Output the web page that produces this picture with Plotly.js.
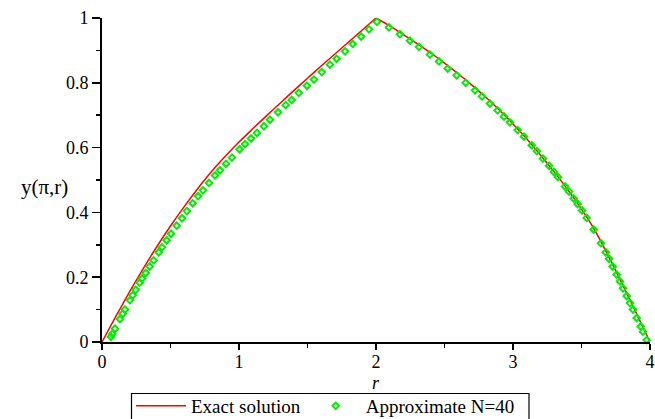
<!DOCTYPE html>
<html>
<head>
<meta charset="utf-8">
<script src="https://cdn.plot.ly/plotly-3.0.1.min.js"></script>
<style>html,body{margin:0;padding:0;background:#fff;}#chart{width:655px;height:419px;}</style>
</head>
<body>
<div id="chart"></div>
<script>
// Exact solution y(pi, r)
const xExact = [0,0.1,0.2,0.3,0.4,0.5,0.6,0.7,0.8,0.9,1.0,1.1,1.2,1.3,1.4,1.5,1.6,1.7,1.8,1.9,2.0,
                2.1,2.2,2.3,2.4,2.5,2.6,2.7,2.8,2.9,3.0,3.1,3.2,3.3,3.4,3.5,3.6,3.7,3.8,3.9,4.0];
const yExact = [0,0.078,0.154,0.226,0.294,0.358,0.418,0.474,0.526,0.573,0.617,0.658,0.698,0.737,0.776,0.814,0.852,0.889,0.926,0.963,1.000,
                0.976,0.949,0.921,0.892,0.861,0.828,0.793,0.756,0.716,0.673,0.627,0.577,0.525,0.470,0.410,0.343,0.262,0.177,0.089,0];

// Approximate solution N=40 (points)
const xApprox = [0.042,0.066,0.075,0.095,0.131,0.151,0.168,0.204,0.224,0.246,0.275,0.292,0.319,0.348,0.377,0.414,0.438,0.472,0.504,0.545,
                 0.584,0.620,0.662,0.701,0.737,0.781,0.825,0.861,0.905,0.949,1.005,1.044,1.088,1.131,1.182,1.226,1.285,1.341,1.385,1.436,
                 1.496,1.547,1.604,1.664,1.713,1.774,1.830,1.891,1.949,2.007,
                 2.095,2.175,2.248,2.314,2.394,2.460,2.523,2.589,2.655,2.723,2.774,2.832,2.888,2.934,2.978,3.034,3.080,3.137,3.175,3.219,
                 3.263,3.299,3.328,3.380,3.409,3.443,3.472,3.504,3.538,3.589,3.642,3.677,3.701,3.728,3.757,3.781,3.803,3.830,3.854,3.876,
                 3.903,3.932,3.949,3.976,3.993];
const yApprox = [-0.004,0.016,0.025,0.041,0.071,0.087,0.100,0.129,0.144,0.161,0.183,0.196,0.213,0.233,0.252,0.277,0.292,0.314,0.334,0.359,
                 0.382,0.404,0.428,0.450,0.468,0.491,0.514,0.530,0.550,0.569,0.595,0.611,0.628,0.645,0.666,0.686,0.709,0.731,0.747,0.769,
                 0.791,0.810,0.833,0.856,0.874,0.897,0.920,0.943,0.965,0.988,
                 0.971,0.950,0.930,0.911,0.887,0.866,0.844,0.823,0.800,0.777,0.758,0.736,0.715,0.696,0.678,0.654,0.634,0.607,0.589,0.566,
                 0.544,0.525,0.509,0.480,0.464,0.443,0.426,0.406,0.383,0.347,0.305,0.277,0.257,0.233,0.208,0.187,0.166,0.142,0.120,0.100,
                 0.074,0.048,0.032,0.006,-0.011];

const xTicks = [0,1,2,3,4];
const yTicks = [0,0.2,0.4,0.6,0.8,1];

const FONT = 'Liberation Serif';
const RED = '#ff0000', GREEN = '#00ee00';

// exact curve drawn as two smooth branches meeting at the peak (r = 2)
const peak = xExact.indexOf(2.0);
const traces = [
  {x: xExact.slice(0, peak + 1), y: yExact.slice(0, peak + 1), type: 'scatter', mode: 'lines',
   name: 'Exact solution', legendgroup: 'exact',
   line: {color: RED, width: 1.5, shape: 'spline', smoothing: 0.8}, cliponaxis: false},
  {x: xExact.slice(peak), y: yExact.slice(peak), type: 'scatter', mode: 'lines',
   name: 'Exact solution', legendgroup: 'exact', showlegend: false,
   line: {color: RED, width: 1.5, shape: 'spline', smoothing: 0.8}, cliponaxis: false},
  {x: xApprox, y: yApprox, type: 'scatter', mode: 'markers', name: 'Approximate N=40',
   marker: {symbol: 'diamond-open', size: 5, color: GREEN, line: {width: 2, color: GREEN}},
   cliponaxis: false}
];

const layout = {
  width: 655, height: 419,
  margin: {l: 102, r: 5, t: 18, b: 77, autoexpand: false},
  paper_bgcolor: '#fff', plot_bgcolor: '#fff',
  font: {family: FONT, size: 18, color: '#000'},
  showlegend: true,
  legend: {orientation: 'h', xref: 'container', x: 131 / 655, xanchor: 'left',
           yref: 'container', y: (419 - 387) / 419, yanchor: 'top',
           borderwidth: 0, bgcolor: 'rgba(0,0,0,0)',
           font: {family: FONT, size: 19, color: '#000'}, itemwidth: 50},
  shapes: [
    {type: 'rect', xref: 'paper', yref: 'paper', x0: 29.5 / 548, x1: 427 / 548,
     y0: -51.5 / 324, y1: -120 / 324, line: {color: '#000', width: 1.2}, fillcolor: 'rgba(0,0,0,0)', layer: 'below'}
  ],
  xaxis: {range: [0, 4], tickvals: xTicks, ticktext: xTicks.map(String),
          showline: true, linecolor: '#000', linewidth: 2, showgrid: false, zeroline: false,
          ticks: 'outside', ticklen: 6, tickwidth: 1.5, tickcolor: '#000', ticklabelstandoff: -4,
          minor: {dtick: 0.5, ticks: 'outside', ticklen: 4, tickwidth: 1.5, tickcolor: '#000', showgrid: false},
          tickfont: {family: FONT, size: 18, color: '#000'}, fixedrange: true, automargin: false},
  yaxis: {range: [0, 1], tickvals: yTicks, ticktext: yTicks.map(String),
          showline: true, linecolor: '#000', linewidth: 2, showgrid: false, zeroline: false,
          ticks: 'outside', ticklen: 8, tickwidth: 1.5, tickcolor: '#000',
          minor: {dtick: 0.1, ticks: 'outside', ticklen: 4, tickwidth: 1.5, tickcolor: '#000', showgrid: false},
          tickfont: {family: FONT, size: 18, color: '#000'}, fixedrange: true, automargin: false},
  annotations: [
    {text: 'y(π,r)', xref: 'paper', yref: 'paper', x: -0.058, y: 0.478, xanchor: 'right', yanchor: 'middle',
     showarrow: false, font: {family: FONT, size: 21, color: '#000'}},
    {text: '<i>r</i>', xref: 'x', yref: 'paper', x: 2, y: -0.128, xanchor: 'center', yanchor: 'middle',
     showarrow: false, font: {family: FONT, size: 18, color: '#000'}}
  ]
};

Plotly.newPlot('chart', traces, layout, {displayModeBar: false, staticPlot: true});
</script>
</body>
</html>
